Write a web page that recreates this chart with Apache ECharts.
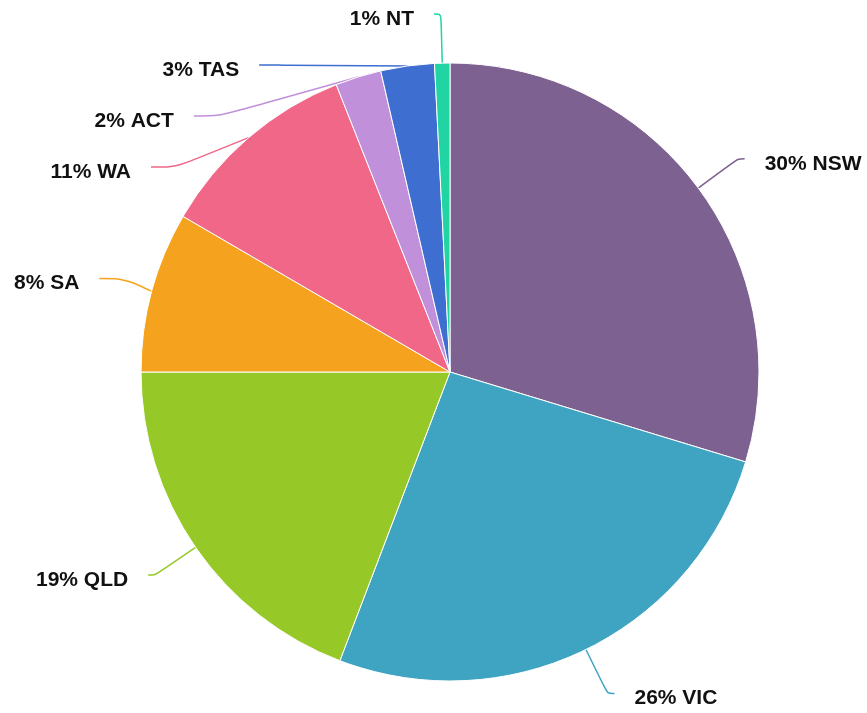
<html>
<head>
    <meta charset="utf-8">
    <script src="https://cdn.jsdelivr.net/npm/echarts@6/dist/echarts.min.js"></script>
</head>
<body style="margin:0;overflow:hidden">
<!-- canvas runs 20px above the window so the top label can sit near the edge -->
<div id="main" style="position:absolute;left:0;top:-20px;width:867px;height:753px"></div>
<script>
    // share of total by state / territory, clockwise from 12 o'clock
    var states = ['NSW', 'VIC', 'QLD', 'SA', 'WA', 'ACT', 'TAS', 'NT'];
    var shares = [29.7, 26.1, 19.2, 8.4, 10.6, 2.4, 2.8, 0.8];
    var colors = ['#7d6191', '#3fa3c2', '#96c928', '#f5a31e', '#f06788', '#c190db', '#3d6ed0', '#20d4a4'];

    // labels stacked up on the upper left get a longer horizontal leg
    var longLeg = {SA: true, WA: true, ACT: true, TAS: true};

    var chart = echarts.init(document.getElementById('main'));

    var labelText = {
        fontFamily: 'Liberation Sans',
        fontWeight: 'bold',
        fontSize: 21,
        color: '#111'
    };

    var option = {
        animation: false,
        color: colors,
        series: [{
            type: 'pie',
            center: [450, 392],
            radius: 309,
            startAngle: 90,
            clockwise: true,
            avoidLabelOverlap: true,
            itemStyle: {
                borderColor: '#fff',
                borderWidth: 1
            },
            label: {
                show: true,
                fontFamily: 'Liberation Sans',
                fontWeight: 'bold',
                fontSize: 21,
                color: '#111',
                overflow: 'none',
                minMargin: 30,
                distanceToLabelLine: 20,
                formatter: function (p) {
                    return '{t|' + Math.round(p.percent) + '% ' + p.name + '}';
                },
                rich: {
                    t: Object.assign({padding: [10, 0, 0, 0]}, labelText)
                }
            },
            labelLine: {
                length: 49,
                length2: 7,
                smooth: true,
                lineStyle: {
                    width: 1.5
                }
            },
            data: states.map(function (s, i) {
                var d = {name: s, value: shares[i]};
                if (longLeg[s]) {
                    d.labelLine = {length2: 25};
                }
                return d;
            })
        }]
    };

    chart.setOption(option);
</script>
</body>
</html>
